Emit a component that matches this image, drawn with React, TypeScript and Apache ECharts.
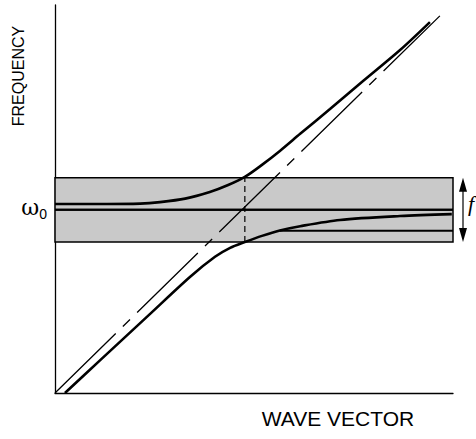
import React, { useEffect, useRef } from "react";
import * as echarts from "echarts";

// Values (normalised units 0..100 on both axes)
const omega0 = 47.2;
const bandLow = 38.9;
const bandHigh = 55.5;
const crossX = 47.7;

const upperBranch: [number, number][] = [
  [0, 48.7], [11.3, 48.7], [21.4, 48.8], [26.4, 49.2], [32.7, 50.1], [38.9, 51.8],
  [43.5, 53.6], [47.7, 55.7], [52.0, 58.8], [56.5, 62.4], [61.6, 66.8], [69.1, 73.2],
  [77.4, 80.4], [86.7, 88.4], [94.2, 95.6],
];
const lowerBranch: [number, number][] = [
  [2.5, 0], [11.3, 8.4], [23.9, 20.4], [33.9, 29.9], [40.2, 35.1], [44.0, 37.4],
  [47.7, 38.9], [52.0, 40.5], [56.5, 41.9], [61.6, 43.0], [71.6, 44.6], [86.7, 45.6],
  [99.7, 46.1],
];
const flatLine: [number, number][] = [[56.5, 41.8], [100, 41.8]];
const photonLine: [number, number][] = [[0, 0], [96.7, 97.2]];
const omegaLine: [number, number][] = [[0, omega0], [100, omega0]];
const crossLine: [number, number][] = [[crossX, bandLow], [crossX, bandHigh]];
const arrowData = [[100, bandLow, bandHigh]];

export default function App() {
  const ref = useRef<HTMLDivElement>(null);
  useEffect(() => {
    if (!ref.current) return;
    const chart = echarts.init(ref.current, null, { renderer: "svg" });
    const black = "#000";
    chart.setOption({
      animation: false,
      backgroundColor: "#fff",
      grid: { left: 55, right: 23, top: 5, bottom: 46 },
      xAxis: {
        type: "value", min: 0, max: 100,
        axisLine: { show: true, lineStyle: { color: black, width: 1.3 } },
        axisTick: { show: false }, axisLabel: { show: false }, splitLine: { show: false },
      },
      yAxis: {
        type: "value", min: 0, max: 100,
        axisLine: { show: true, lineStyle: { color: black, width: 1.3 } },
        axisTick: { show: false },
        splitLine: { show: false },
        axisLabel: {
          show: true,
          customValues: [omega0],
          margin: 8,
          fontSize: 22,
          formatter: () => "{a|ω}{b|0}",
          rich: {
            a: { fontFamily: "DejaVu Serif", fontSize: 22, color: black, padding: [0, 0, 4, 0] },
            b: { fontFamily: "Liberation Sans", fontSize: 14, color: black, padding: [8, 0, 0, 0] },
          },
        },
      },
      graphic: [
        {
          type: "text", x: 18, y: 76, rotation: Math.PI / 2,
          style: { text: "FREQUENCY", fontFamily: "Liberation Sans", fontSize: 16, fill: black, align: "center", verticalAlign: "middle" },
        },
        {
          type: "text", x: 338, y: 418,
          style: { text: "WAVE VECTOR", fontFamily: "Liberation Sans", fontSize: 21, fill: black, align: "center", verticalAlign: "middle" },
        },
      ],
      series: [
        {
          type: "line", data: omegaLine, z: 1, symbol: "none",
          lineStyle: { color: black, width: 2 },
          markArea: {
            silent: true,
            itemStyle: { color: "#c9c9c9", borderColor: black, borderWidth: 1.5 },
            data: [[{ yAxis: bandLow }, { yAxis: bandHigh }]],
          },
        },
        {
          type: "line", data: omegaLine, z: 3, symbol: "none",
          lineStyle: { color: black, width: 2 },
        },
        {
          type: "line", data: flatLine, z: 3, symbol: "none",
          lineStyle: { color: black, width: 2 },
        },
        {
          type: "line", data: photonLine, z: 3, symbol: "none",
          lineStyle: { color: black, width: 1.3, type: [85, 10, 10, 10] },
        },
        {
          type: "line", data: crossLine, z: 3, symbol: "none",
          lineStyle: { color: black, width: 1.2, type: [6, 4] },
        },
        {
          type: "line", data: upperBranch, z: 4, symbol: "none", smooth: 0.3,
          lineStyle: { color: black, width: 2.6 },
        },
        {
          type: "line", data: lowerBranch, z: 4, symbol: "none", smooth: 0.3,
          lineStyle: { color: black, width: 2.6 },
        },
        {
          type: "custom", data: arrowData, clip: false, z: 4, silent: true,
          renderItem: (params: any, api: any) => {
            const top = api.coord([api.value(0), api.value(2)]);
            const bot = api.coord([api.value(0), api.value(1)]);
            const x = top[0] + 10;
            const t = top[1];
            const b = bot[1];
            return {
              type: "group",
              children: [
                { type: "line", shape: { x1: x, y1: t + 10, x2: x, y2: b - 10 }, style: { stroke: black, lineWidth: 1.2 } },
                { type: "polygon", shape: { points: [[x, t], [x - 4, t + 14], [x + 4, t + 14]] }, style: { fill: black } },
                { type: "polygon", shape: { points: [[x, b], [x - 4, b - 14], [x + 4, b - 14]] }, style: { fill: black } },
                {
                  type: "text", x: x + 5, y: (t + b) / 2 - 6,
                  style: { text: "f", fontFamily: "Liberation Serif", fontStyle: "italic", fontSize: 22, fill: black, align: "left", verticalAlign: "middle" },
                },
              ],
            };
          },
        },
      ],
    });
    return () => chart.dispose();
  }, []);
  return <div ref={ref} style={{ position: "fixed", left: 0, top: 0, width: 476, height: 439 }} />;
}
